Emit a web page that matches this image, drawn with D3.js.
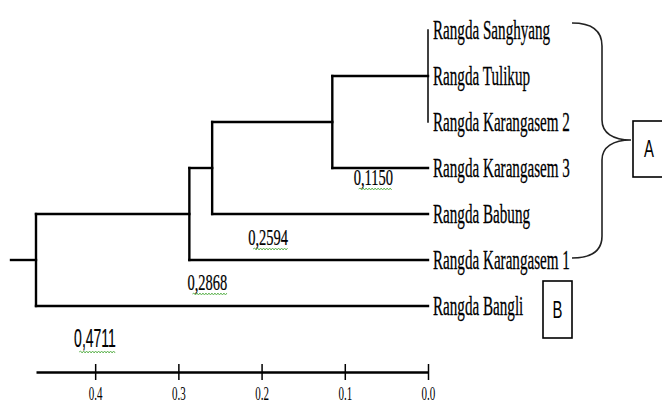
<!DOCTYPE html>
<html>
<head>
<meta charset="utf-8">
<script src="https://cdn.jsdelivr.net/npm/d3@7"></script>
<style>
  html, body { margin: 0; padding: 0; background: #fff; }
  svg { display: block; }
</style>
</head>
<body>
<svg id="chart" width="662" height="406"></svg>
<script>
  // ─── Data ───
  const leafNames = [
    'Rangda Sanghyang',
    'Rangda Tulikup',
    'Rangda Karangasem 2',
    'Rangda Karangasem 3',
    'Rangda Babung',
    'Rangda Karangasem 1',
    'Rangda Bangli'
  ];
  // linkage: each merge joins earlier items (leaves 0..6, merges 7..)
  const mergeChildren = [[0, 1, 2], [7, 3], [8, 4], [9, 5], [10, 6]];
  const mergeHeights = [0, 0.1150, 0.2594, 0.2868, 0.4711];
  const heightLabels = ['', '0,1150', '0,2594', '0,2868', '0,4711'];
  const axisTicks = [0.4, 0.3, 0.2, 0.1, 0.0];

  // ─── Layout config ───
  const labelOffsets = [null, [41, 55], [56, 69], [18, 68], [59, 78]];

  const svg = d3.select('#chart');

  // build nested tree from linkage
  const items = leafNames.map((name, i) => ({ name, h: 0, idx: i }));
  mergeChildren.forEach((kids, i) => {
    items.push({ name: 'n' + i, h: mergeHeights[i], label: heightLabels[i], merge: i, children: kids.map(k => items[k]) });
  });
  const root = d3.hierarchy(items[items.length - 1]);

  const x = d3.scaleLinear().domain([mergeHeights[mergeHeights.length - 1], 0]).range([36, 428]);
  const y = d3.scalePoint().domain(leafNames).range([30, 306]);

  // leaf y from scale, internal y = midpoint of outer children
  root.eachAfter(d => {
    if (!d.children) d.py = y(d.data.name);
    else d.py = (d.children[0].py + d.children[d.children.length - 1].py) / 2;
    d.px = x(d.data.h);
  });

  const lines = svg.append('g').attr('stroke', '#000').attr('fill', 'none').attr('stroke-linecap', 'square');

  root.descendants().filter(d => d.children).forEach(d => {
    const ys = d.children.map(c => c.py);
    lines.append('line')
      .attr('x1', d.px).attr('x2', d.px)
      .attr('y1', d3.min(ys)).attr('y2', d3.max(ys))
      .attr('stroke-width', d.data.h === 0 ? 1.5 : 2.4);
    d.children.forEach(c => {
      if (c.px === d.px) return;
      lines.append('line')
        .attr('x1', d.px).attr('x2', c.px)
        .attr('y1', c.py).attr('y2', c.py)
        .attr('stroke-width', 2.4);
    });
  });

  // root stub
  lines.append('line')
    .attr('x1', root.px - 25).attr('x2', root.px)
    .attr('y1', root.py).attr('y2', root.py)
    .attr('stroke-width', 2.4);

  // condensed text helper
  function condensed(g, txt, cx, cy, opts) {
    const t = g.append('text')
      .attr('transform', `translate(${cx},${cy}) scale(${opts.sx},1)`)
      .attr('font-family', opts.family)
      .attr('font-size', opts.size)
      .attr('text-anchor', opts.anchor || 'start')
      .attr('fill', '#000')
      .attr('stroke', '#000')
      .attr('stroke-width', opts.weight || 0)
      .text(txt);
    return t;
  }

  // leaf labels
  const labels = svg.append('g');
  root.leaves().forEach(d => {
    condensed(labels, d.data.name, 433, d.py + 9, { sx: 0.54, size: 28, family: 'Liberation Serif', weight: 0.3 });
  });

  // height labels with squiggle underline
  const notes = svg.append('g');
  function squiggle(x0, x1, yy) {
    let p = `M${x0},${yy}`;
    let up = true;
    for (let xx = x0 + 1.5; xx <= x1; xx += 1.5) {
      p += `L${xx},${yy + (up ? -1 : 1)}`;
      up = !up;
    }
    notes.append('path').attr('d', p).attr('fill', 'none').attr('stroke', '#58b04a').attr('stroke-width', 0.9);
  }

  root.descendants().filter(d => d.children && d.data.label).forEach(d => {
    const off = labelOffsets[d.data.merge];
    const cx = d.px + off[0], cy = d.py + off[1];
    const isRoot = d === root;
    const opts = isRoot
      ? { sx: 0.56, size: 25, family: 'Liberation Sans', anchor: 'middle', weight: 0.2 }
      : { sx: 0.63, size: 23, family: 'Liberation Serif', anchor: 'middle', weight: 0.25 };
    const t = condensed(notes, d.data.label, cx, cy + (isRoot ? 9 : 8), opts);
    const w = t.node().getBBox().width * opts.sx;
    squiggle(cx - w / 2 + 5, cx + w / 2, cy + (isRoot ? 14 : 12));
  });

  // axis
  const axis = d3.axisBottom(x).tickValues(axisTicks).tickFormat(d3.format('.1f')).tickSizeOuter(0);
  const ax = svg.append('g').attr('transform', 'translate(0,372)').call(axis);
  ax.select('.domain').attr('stroke', '#000').attr('stroke-width', 2.4);
  ax.selectAll('.tick line').attr('y1', -8).attr('y2', 8).attr('stroke', '#000').attr('stroke-width', 1.5);
  ax.selectAll('.tick text')
    .attr('y', 28).attr('dy', 0)
    .attr('transform', 'scale(0.58,1)')
    .attr('font-family', 'Liberation Serif')
    .attr('font-size', 19)
    .attr('fill', '#000');

  // group annotations: brace + boxes
  const ann = svg.append('g').attr('fill', 'none').attr('stroke', '#222').attr('stroke-width', 1.6);
  ann.append('path').attr('d',
    'M572,23 C592,23 602,31 602,46 L602,120 C602,133 613,140 631,140 ' +
    'C613,140 602,147 602,160 L602,236 C602,250 592,258 572,258');
  ann.append('rect').attr('x', 633).attr('y', 121).attr('width', 40).attr('height', 56).attr('stroke', '#000');
  ann.append('rect').attr('x', 543).attr('y', 281).attr('width', 29).attr('height', 57).attr('stroke', '#000');

  const boxText = svg.append('g');
  condensed(boxText, 'A', 649, 157, { sx: 0.62, size: 24, family: 'Liberation Sans', anchor: 'middle' });
  condensed(boxText, 'B', 557.5, 318, { sx: 0.62, size: 24, family: 'Liberation Sans', anchor: 'middle' });
</script>
</body>
</html>
